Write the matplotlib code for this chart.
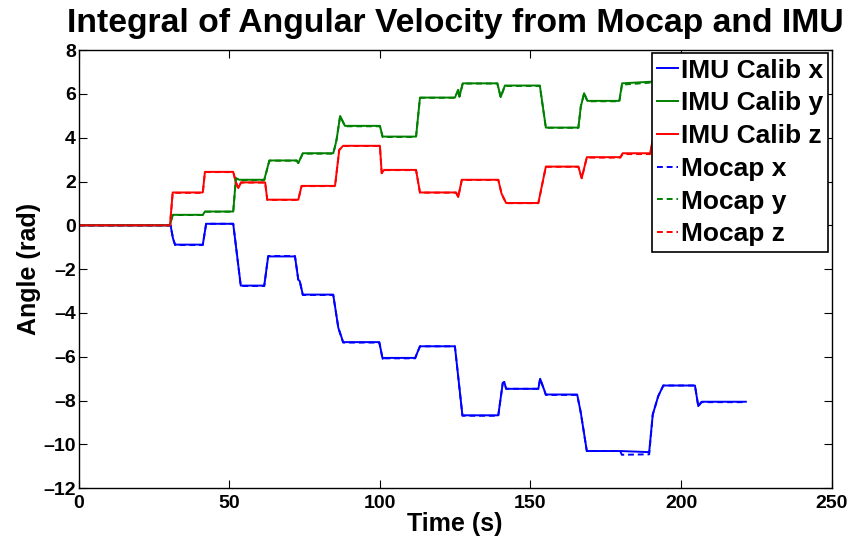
import matplotlib
matplotlib.use('Agg')
import matplotlib.pyplot as plt

plt.rcParams['font.family'] = ['Liberation Sans', 'DejaVu Sans']
plt.rcParams['font.weight'] = 'bold'

# IMU calibrated integral, x axis (time s, angle rad)
imu_x_t = [0, 30.5, 31.3, 32.0, 41.2, 42.3, 51.3, 53.8, 61.6, 62.9, 71.8, 72.9, 73.4, 74.4,
           84.5, 86.2, 87.8, 99.8, 100.9, 101.3, 111.7, 113.3, 124.9, 127.4, 139.3, 140.8,
           141.3, 141.9, 152.6, 153.2, 155.1, 165.5, 166.7, 168.7, 179.8, 189.4, 190.6,
           192.4, 194.1, 204.6, 205.7, 206.8, 221.5]
imu_x_v = [0, 0, -0.6, -0.88, -0.88, 0.07, 0.07, -2.75, -2.75, -1.42, -1.42, -2.48, -2.55, -3.16,
           -3.16, -4.68, -5.33, -5.33, -6.09, -6.05, -6.05, -5.52, -5.52, -8.67, -8.67, -7.19,
           -7.15, -7.46, -7.46, -7.0, -7.72, -7.72, -8.55, -10.3, -10.3, -10.35, -8.63,
           -7.8, -7.31, -7.31, -8.25, -8.05, -8.05]

imu_y_t = [0, 30.3, 31.2, 41.2, 41.9, 51.3, 52.2, 53.3, 61.6, 63.3, 72.4, 72.9, 74.4, 84.5,
           85.1, 85.6, 86.8, 88.4, 100.0, 100.9, 112.0, 113.3, 124.9, 126.0, 126.4, 127.5,
           139.0, 140.1, 141.5, 153.1, 155.1, 165.9, 166.7, 167.8, 168.9, 179.5, 180.4,
           190.8, 221.5]
imu_y_v = [0, 0, 0.48, 0.48, 0.63, 0.63, 2.15, 2.08, 2.08, 2.96, 2.96, 2.84, 3.29, 3.29,
           3.6, 3.9, 4.99, 4.54, 4.54, 4.05, 4.05, 5.83, 5.83, 6.18, 5.87, 6.48,
           6.48, 5.85, 6.38, 6.38, 4.46, 4.46, 5.42, 6.03, 5.68, 5.68, 6.48,
           6.56, 6.56]

imu_z_t = [0, 30.3, 31.2, 41.2, 41.9, 51.3, 52.2, 53.0, 53.9, 61.9, 62.6, 72.9, 74.0, 85.1,
           86.5, 87.8, 100.0, 100.6, 101.4, 112.0, 113.3, 125.3, 126.0, 127.2, 139.3, 140.4,
           141.9, 152.6, 155.1, 165.9, 167.0, 168.7, 179.8, 180.6, 189.7, 190.8, 221.5]
imu_z_v = [0, 0, 1.50, 1.50, 2.44, 2.44, 1.96, 1.70, 1.96, 1.96, 1.17, 1.17, 1.80, 1.80,
           3.44, 3.63, 3.63, 2.38, 2.53, 2.53, 1.50, 1.50, 1.29, 2.08, 2.08, 1.44,
           1.02, 1.02, 2.68, 2.68, 2.15, 3.11, 3.11, 3.29, 3.29, 4.02, 4.02]

# Mocap integral
mocap_x_t = [0, 30.5, 31.3, 32.0, 41.2, 42.3, 51.3, 53.8, 61.6, 62.9, 71.8, 72.9, 73.4, 74.4,
             84.5, 86.2, 87.8, 99.8, 100.9, 101.3, 111.7, 113.3, 124.9, 127.4, 139.3, 140.8,
             141.3, 141.9, 152.6, 153.2, 155.1, 165.5, 166.7, 168.7, 179.8, 180.3, 189.4,
             190.6, 192.4, 194.1, 204.6, 205.7, 206.8, 221.5]
mocap_x_v = [0, 0, -0.6, -0.9, -0.9, 0.07, 0.07, -2.77, -2.77, -1.4, -1.4, -2.48, -2.55, -3.18,
             -3.18, -4.68, -5.35, -5.35, -6.09, -6.07, -6.07, -5.52, -5.52, -8.69, -8.69, -7.19,
             -7.15, -7.46, -7.46, -7.0, -7.74, -7.74, -8.55, -10.3, -10.3, -10.47, -10.45,
             -8.63, -7.8, -7.31, -7.31, -8.25, -8.07, -8.07]

mocap_y_t = [0, 30.3, 31.2, 41.2, 41.9, 51.3, 52.2, 53.3, 61.6, 63.3, 72.4, 72.9, 74.4, 84.5,
             85.1, 85.6, 86.8, 88.4, 100.0, 100.9, 112.0, 113.3, 124.9, 126.0, 126.4, 127.5,
             139.0, 140.1, 141.5, 153.1, 155.1, 165.9, 166.7, 167.8, 168.9, 179.5, 180.4,
             190.8, 221.5]
mocap_y_v = [0, 0, 0.47, 0.47, 0.62, 0.62, 2.15, 2.06, 2.06, 2.95, 2.95, 2.84, 3.27, 3.27,
             3.6, 3.9, 4.99, 4.52, 4.52, 4.03, 4.03, 5.82, 5.82, 6.18, 5.87, 6.47,
             6.47, 5.85, 6.36, 6.36, 4.45, 4.45, 5.42, 6.03, 5.66, 5.66, 6.42,
             6.52, 6.52]

mocap_z_t = [0, 30.3, 31.2, 41.2, 41.9, 51.3, 52.2, 53.0, 53.9, 61.9, 62.6, 72.9, 74.0, 85.1,
             86.5, 87.8, 100.0, 100.6, 101.4, 112.0, 113.3, 125.3, 126.0, 127.2, 139.3, 140.4,
             141.9, 152.6, 155.1, 165.9, 167.0, 168.7, 179.8, 180.6, 189.7, 190.8, 221.5]
mocap_z_v = [0, 0, 1.48, 1.48, 2.43, 2.43, 1.96, 1.70, 1.95, 1.95, 1.16, 1.16, 1.79, 1.79,
             3.44, 3.62, 3.62, 2.38, 2.52, 2.52, 1.49, 1.49, 1.29, 2.07, 2.07, 1.44,
             1.01, 1.01, 2.67, 2.67, 2.15, 3.09, 3.09, 3.25, 3.25, 4.0, 4.0]

labels = ['IMU Calib x', 'IMU Calib y', 'IMU Calib z', 'Mocap x', 'Mocap y', 'Mocap z']
colors = ['#0000ff', '#008000', '#ff0000']

fig = plt.figure(figsize=(8.51, 5.42), dpi=100)
ax = fig.add_axes([0.0925, 0.0991, 0.8848, 0.8086])

ax.plot(imu_x_t, imu_x_v, '-', color=colors[0], lw=1.4, label=labels[0])
ax.plot(imu_y_t, imu_y_v, '-', color=colors[1], lw=1.4, label=labels[1])
ax.plot(imu_z_t, imu_z_v, '-', color=colors[2], lw=1.4, label=labels[2])
ax.plot(mocap_x_t, mocap_x_v, '--', color=colors[0], lw=1.4, dashes=(3, 2), label=labels[3])
ax.plot(mocap_y_t, mocap_y_v, '--', color=colors[1], lw=1.4, dashes=(3, 2), label=labels[4])
ax.plot(mocap_z_t, mocap_z_v, '--', color=colors[2], lw=1.4, dashes=(3, 2), label=labels[5])

ax.set_xlim(0, 250)
ax.set_ylim(-12, 8)
ax.set_xticks(range(0, 251, 50))
ax.set_yticks(range(-12, 9, 2))
ax.set_yticklabels(['\u2013' + str(-v) if v < 0 else str(v) for v in range(-12, 9, 2)])
ax.tick_params(direction='in', top=True, right=True, length=6, width=0.8, labelsize=14)
ax.tick_params(axis='y', pad=2)
ax.tick_params(axis='x', pad=5)
for s in ax.spines.values():
    s.set_linewidth(1.0)

ax.set_title('Integral of Angular Velocity from Mocap and IMU', fontsize=24.3, fontweight='bold', pad=13)
ax.set_xlabel('Time (s)', fontsize=18, fontweight='bold', labelpad=0)
ax.set_ylabel('Angle (rad)', fontsize=18, fontweight='bold', labelpad=2)

leg = ax.legend(loc='upper right', fontsize=19, handlelength=0.8, handletextpad=0.1,
                labelspacing=0.33, borderpad=0.2, borderaxespad=0.13, fancybox=False,
                framealpha=1, edgecolor='black')
leg.get_frame().set_linewidth(1.2)

fig.savefig('out.png', dpi=100)
